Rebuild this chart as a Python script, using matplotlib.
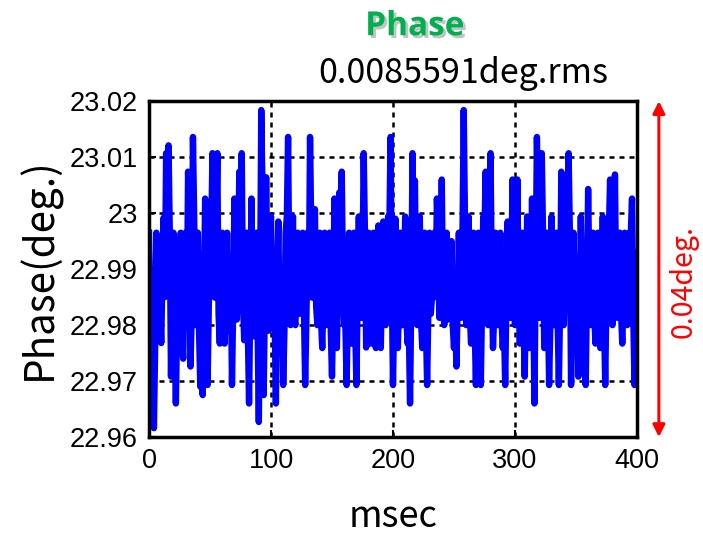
import matplotlib
matplotlib.use('Agg')
import matplotlib.pyplot as plt
import matplotlib.patheffects as pe

# data, one sample per msec
msec = list(range(0, 401))
phase = [
    22.9965, 22.9834, 22.9730, 22.9800, 22.9616, 22.9760, 22.9965, 22.9900, 22.9780, 22.9834,
    22.9768, 22.9890, 22.9992, 22.9850, 23.0107, 23.0026, 23.0121, 22.9965, 22.9708, 22.9870,
    22.9965, 22.9780, 22.9660, 22.9800, 22.9884, 22.9880, 22.9965, 22.9780, 22.9740, 22.9850,
    22.9965, 22.9810, 23.0074, 22.9965, 22.9726, 22.9820, 23.0136, 22.9994, 22.9800, 22.9900,
    22.9965, 22.9790, 22.9690, 22.9834, 22.9675, 22.9850, 23.0026, 22.9790, 22.9693, 22.9834,
    23.0000, 22.9965, 23.0107, 22.9880, 22.9849, 22.9965, 23.0107, 22.9820, 22.9767, 22.9870,
    22.9965, 22.9800, 22.9767, 22.9850, 22.9965, 22.9790, 22.9830, 22.9900, 22.9693, 22.9834,
    23.0026, 22.9810, 22.9810, 22.9900, 23.0074, 22.9965, 23.0107, 22.9850, 22.9773, 22.9890,
    22.9965, 22.9790, 22.9660, 22.9850, 23.0026, 22.9810, 22.9780, 22.9870, 22.9965, 22.9800,
    22.9627, 22.9834, 23.0184, 23.0040, 22.9675, 22.9850, 23.0064, 22.9890, 22.9790, 22.9965,
    22.9994, 22.9834, 22.9813, 22.9820, 22.9660, 22.9870, 22.9985, 22.9810, 22.9790, 22.9850,
    22.9693, 22.9790, 22.9965, 22.9994, 23.0136, 22.9880, 22.9800, 22.9850, 22.9994, 22.9810,
    22.9800, 22.9870, 22.9965, 22.9820, 22.9849, 22.9880, 22.9965, 22.9834, 22.9693, 22.9810,
    22.9965, 22.9850, 23.0136, 22.9965, 22.9849, 22.9890, 23.0007, 22.9834, 22.9800, 22.9850,
    22.9965, 22.9810, 22.9759, 22.9850, 22.9965, 22.9800, 22.9849, 22.9890, 22.9965, 22.9790,
    22.9708, 22.9834, 23.0026, 22.9850, 22.9759, 22.9870, 23.0037, 22.9994, 23.0074, 22.9880,
    22.9800, 22.9800, 22.9693, 22.9834, 22.9965, 22.9810, 22.9767, 22.9880, 22.9965, 22.9800,
    22.9693, 22.9850, 22.9994, 22.9820, 22.9813, 22.9900, 23.0107, 22.9965, 22.9760, 22.9850,
    22.9965, 22.9820, 22.9767, 22.9850, 22.9965, 22.9800, 22.9759, 22.9834, 22.9978, 22.9810,
    22.9759, 22.9870, 22.9985, 22.9820, 22.9800, 22.9850, 22.9994, 22.9965, 23.0136, 22.9880,
    22.9693, 22.9820, 22.9990, 22.9834, 22.9759, 22.9850, 22.9965, 22.9800, 22.9800, 22.9870,
    22.9994, 22.9810, 22.9767, 22.9790, 22.9660, 22.9850, 23.0107, 22.9965, 23.0058, 22.9834,
    22.9800, 22.9880, 22.9994, 22.9810, 22.9759, 22.9850, 22.9965, 22.9800, 22.9693, 22.9834,
    22.9965, 22.9820, 22.9849, 22.9880, 22.9965, 22.9850, 23.0026, 22.9965, 22.9813, 22.9870,
    23.0060, 22.9850, 22.9800, 22.9834, 22.9965, 22.9810, 22.9849, 22.9870, 22.9950, 22.9800,
    22.9759, 22.9820, 22.9726, 22.9834, 22.9965, 22.9850, 22.9813, 22.9965, 23.0184, 22.9994,
    22.9800, 22.9850, 22.9994, 22.9820, 22.9767, 22.9834, 22.9965, 22.9800, 22.9693, 22.9850,
    22.9965, 22.9810, 22.9693, 22.9834, 22.9994, 22.9965, 23.0074, 22.9880, 22.9800, 22.9900,
    23.0107, 22.9880, 22.9759, 22.9820, 22.9965, 22.9850, 22.9800, 22.9834, 22.9965, 22.9810,
    22.9759, 22.9800, 22.9693, 22.9850, 22.9985, 22.9820, 22.9813, 22.9880, 23.0060, 22.9965,
    22.9800, 22.9880, 23.0060, 22.9850, 22.9767, 22.9834, 22.9965, 22.9810, 22.9708, 22.9850,
    22.9994, 22.9820, 22.9759, 22.9834, 23.0026, 22.9850, 22.9660, 22.9890, 23.0136, 22.9994,
    22.9813, 22.9880, 23.0107, 22.9965, 22.9759, 22.9820, 22.9965, 22.9850, 22.9693, 22.9800,
    22.9994, 22.9834, 22.9800, 22.9850, 22.9965, 22.9810, 22.9693, 22.9834, 23.0074, 22.9880,
    22.9800, 22.9880, 23.0026, 22.9994, 23.0107, 22.9965, 22.9693, 22.9820, 22.9965, 22.9850,
    22.9800, 22.9834, 22.9708, 22.9810, 22.9994, 22.9850, 22.9759, 22.9800, 22.9693, 22.9850,
    23.0043, 22.9880, 22.9800, 22.9834, 22.9965, 22.9820, 22.9767, 22.9850, 22.9965, 22.9810,
    22.9759, 22.9834, 22.9994, 22.9820, 22.9693, 22.9850, 22.9965, 22.9965, 23.0060, 22.9880,
    22.9800, 22.9880, 23.0069, 22.9850, 22.9813, 22.9834, 22.9965, 22.9820, 22.9767, 22.9850,
    22.9965, 22.9810, 22.9800, 22.9850, 22.9965, 22.9965, 23.0026, 22.9820, 22.9693, 22.9810,
    22.9930,
]

yticks = [22.96, 22.97, 22.98, 22.99, 23.0, 23.01, 23.02]
ytick_labels = ['22.96', '22.97', '22.98', '22.99', '23', '23.01', '23.02']
xticks = [0, 100, 200, 300, 400]

plt.rcParams['font.family'] = ['Liberation Sans', 'DejaVu Sans']
jp = ['Noto Sans CJK JP', 'DejaVu Sans']

fig = plt.figure(figsize=(7.03, 5.35), dpi=100)
ax = fig.add_axes([0.212, 0.183, 0.694, 0.628])

ax.plot(msec, phase, color='#0000FF', linewidth=4.6, solid_joinstyle='round')

ax.set_xlim(0, 400)
ax.set_ylim(22.96, 23.02)
ax.set_xticks(xticks)
ax.set_yticks(yticks)
ax.set_yticklabels(ytick_labels)
ax.tick_params(direction='in', length=5, width=1.5, labelsize=19.5, pad=8)
ax.grid(True, color='black', linestyle=(0, (2, 2)), linewidth=1.8)
for s in ax.spines.values():
    s.set_linewidth(2.5)

ax.set_xlabel('msec', fontsize=26, family=jp, labelpad=18)
ax.set_ylabel('Phase(deg.)', fontsize=29, family=jp, labelpad=6)

fig.text(0.590, 0.950, 'Phase', color='#00B050', fontsize=24, fontweight='bold',
         family=['Open Sans', 'DejaVu Sans'], ha='center', va='center',
         path_effects=[pe.SimplePatchShadow(offset=(2, -2), shadow_rgbFace='#888888', alpha=0.5),
                       pe.Normal()])
fig.text(0.659, 0.862, '0.0085591deg.rms', fontsize=24.5, family=jp, ha='center', va='center')

# red range arrow on the right
ax.annotate('', xy=(1.045, 1.0), xytext=(1.045, 0.0), xycoords='axes fraction',
            arrowprops=dict(arrowstyle='<|-|>', color='red', lw=2.2, mutation_scale=18,
                            shrinkA=0, shrinkB=0), annotation_clip=False)
fig.text(0.972, 0.473, '0.04deg.', color='red', fontsize=20.5, family=jp, rotation=90,
         ha='center', va='center')

plt.savefig('out.png', dpi=100)
